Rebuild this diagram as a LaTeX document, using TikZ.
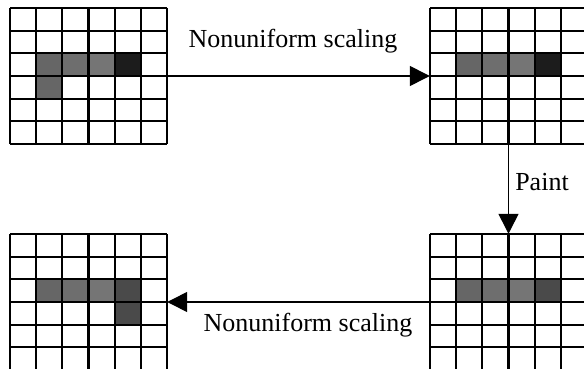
\documentclass[tikz,border=0pt]{standalone}
\usepackage{fontspec}
\setmainfont{Liberation Serif}
\usetikzlibrary{arrows.meta}
\definecolor{cellA}{HTML}{666666}
\definecolor{cellB}{HTML}{6E6E6E}
\definecolor{cellC}{HTML}{757575}
\definecolor{cellDark}{HTML}{1C1C1C}
\definecolor{cellMid}{HTML}{4A4A4A}
\tikzset{
  gridbox/.style={draw=none, minimum width=157pt, minimum height=136pt, inner sep=0pt},
  gridline/.style={line width=2.1pt, black},
  flow/.style={line width=1.3pt, -{Triangle[length=20pt,width=20pt]}},
  lbl/.style={font=\fontsize{26}{30}\selectfont, inner sep=0pt}
}
% cell (column, row) of a 6x6 grid whose top-left corner is (#1,#2)
\newcommand{\pixcell}[5]{%
  \fill[#5] ({#1+(#3-1)*26.17},{#2+(#4-1)*22.67}) rectangle ++(26.17,22.67);}
\begin{document}
\begin{tikzpicture}[x=1pt,y=-1pt]
\useasboundingbox (0,0) rectangle (584,369);
\clip (0,0) rectangle (584,369);

% placeholders for the four pixel grids
\node[gridbox] (g1) at (88.5,76) {};
\node[gridbox] (g2) at (508.5,76) {};
\node[gridbox] (g3) at (88.5,302) {};
\node[gridbox] (g4) at (508.5,302) {};

% shaded pixels
\pixcell{10}{8}{2}{3}{cellA}\pixcell{10}{8}{3}{3}{cellB}\pixcell{10}{8}{4}{3}{cellC}
\pixcell{10}{8}{5}{3}{cellDark}\pixcell{10}{8}{2}{4}{cellA}

\pixcell{430}{8}{2}{3}{cellA}\pixcell{430}{8}{3}{3}{cellB}\pixcell{430}{8}{4}{3}{cellC}
\pixcell{430}{8}{5}{3}{cellDark}

\pixcell{10}{234}{2}{3}{cellA}\pixcell{10}{234}{3}{3}{cellB}\pixcell{10}{234}{4}{3}{cellC}
\pixcell{10}{234}{5}{3}{cellMid}\pixcell{10}{234}{5}{4}{cellMid}

\pixcell{430}{234}{2}{3}{cellA}\pixcell{430}{234}{3}{3}{cellB}\pixcell{430}{234}{4}{3}{cellC}
\pixcell{430}{234}{5}{3}{cellMid}

% grid lines
\foreach \gx/\gy in {10/8,430/8,10/234,430/234}{
  \foreach \k in {0,...,6}{
    \draw[gridline] ({\gx+\k*26.17},\gy) -- ++(0,136);
    \draw[gridline] (\gx,{\gy+\k*22.67}) -- ++(157,0);
  }
}

% transformations
\draw[flow] (g1.east) -- (g2.west);
\draw[flow] (g2.south) -- (g4.north);
\draw[flow] (g4.west) -- (g3.east);

\node[lbl] (t1) at (293,41) {Nonuniform scaling};
\node[lbl] (t2) at (542,182) {Paint};
\node[lbl] (t3) at (308,325) {Nonuniform scaling};
\end{tikzpicture}
\end{document}
